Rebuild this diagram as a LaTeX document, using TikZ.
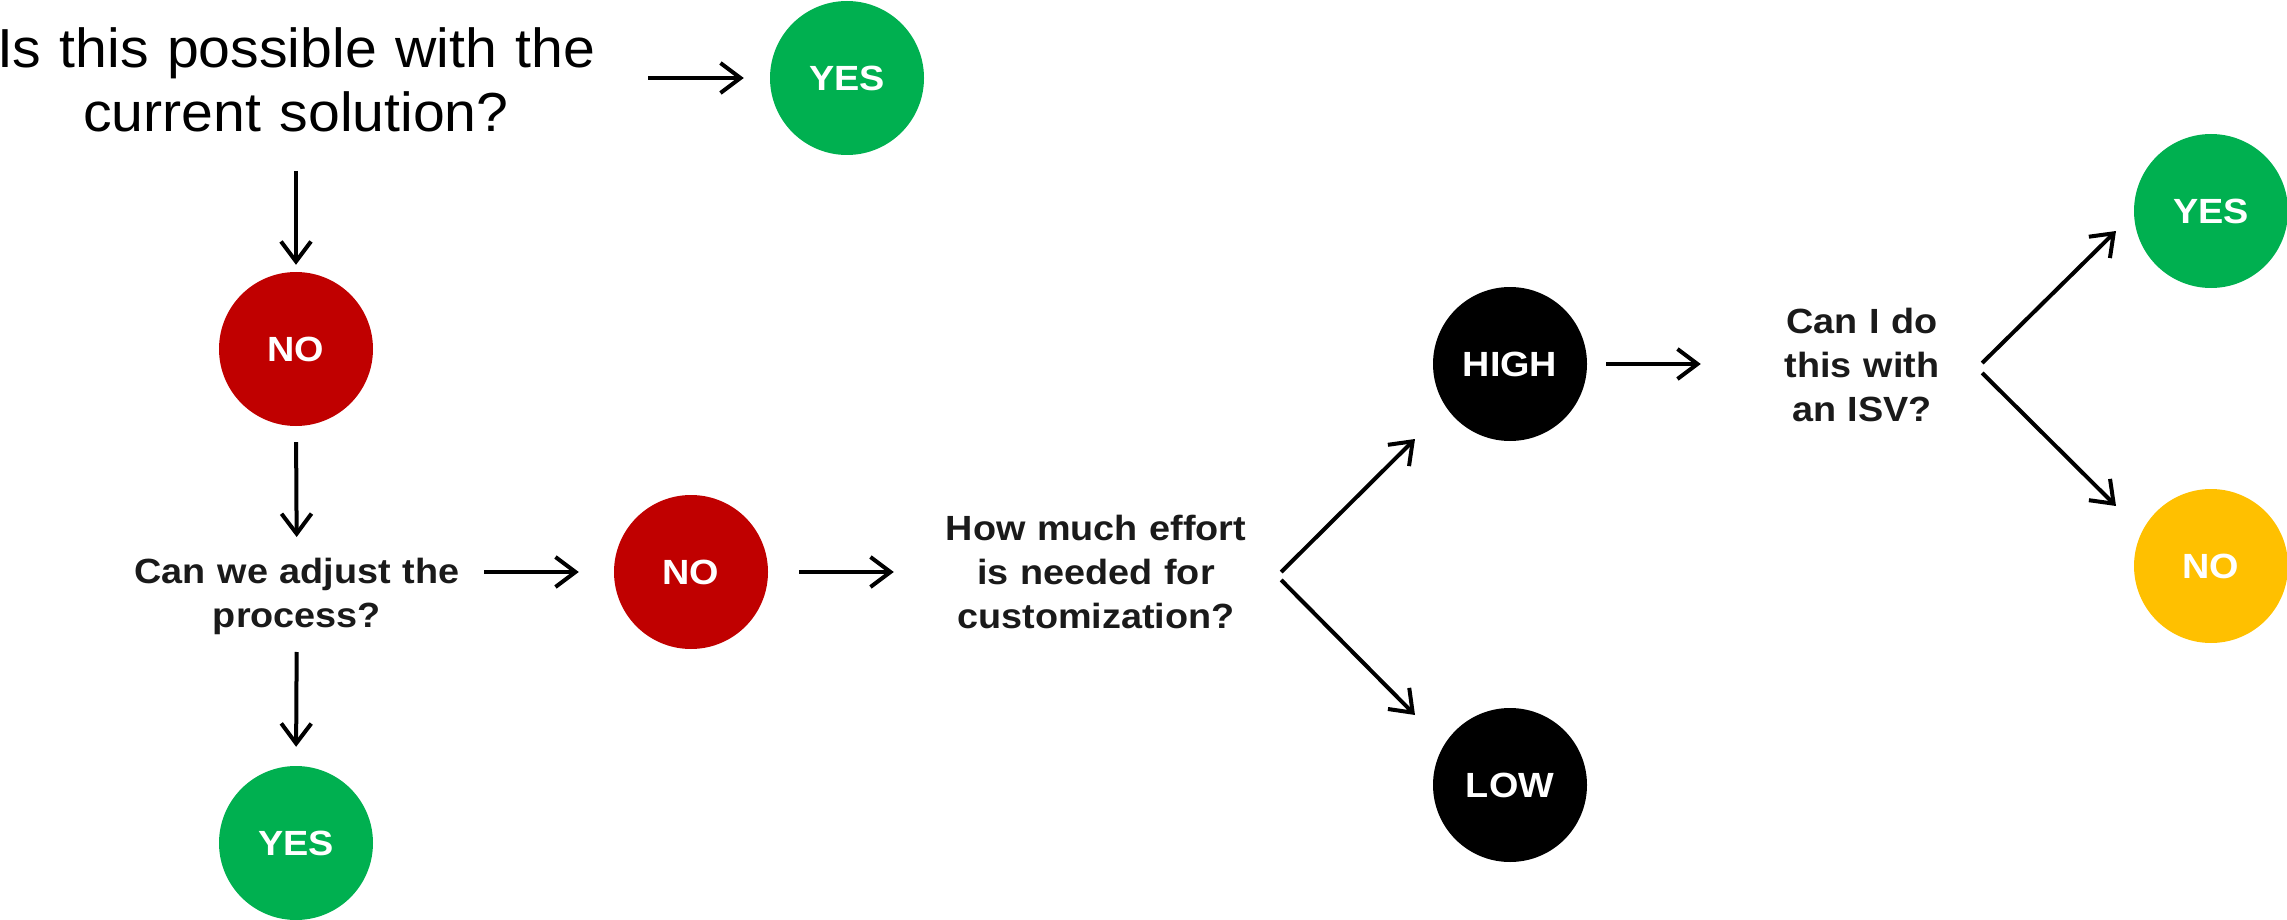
\documentclass[tikz,border=0pt]{standalone}
\usepackage{fontspec}
\setmainfont{Liberation Sans}
\newfontfamily\qfont{Liberation Sans}[FakeStretch=1.04]
\newfontfamily\bfont{Liberation Sans Bold}[FakeStretch=1.08]
\usetikzlibrary{arrows.meta,calc}
\definecolor{cgreen}{HTML}{00B050}
\definecolor{cred}{HTML}{C00000}
\definecolor{cyellow}{HTML}{FFC000}
\definecolor{ctext}{HTML}{1A1A1A}
\tikzset{
  circ/.style={circle, minimum size=154pt, inner sep=0pt, text=white,
    font=\bfont\fontsize{35}{40}\selectfont},
  yescirc/.style={circ, fill=cgreen},
  nocirc/.style={circ, fill=cred},
  warncirc/.style={circ, fill=cyellow},
  effcirc/.style={circ, fill=black},
  question/.style={align=center, text=ctext, inner sep=0pt,
    font=\bfont\fontsize{35}{44}\selectfont},
  title/.style={align=center, text=black, inner sep=0pt,
    font=\qfont\fontsize{55}{64}\selectfont},
  arr/.style={draw=black, line width=4pt, -{Straight Barb[length=20pt,width=30pt]}},
}
\begin{document}
\begin{tikzpicture}[x=1pt,y=-1pt]
\useasboundingbox (0,0) rectangle (2287,920);
\node[title, text width=600pt] (q1) at (296,80) {Is this possible with the\\current solution?};
\node[yescirc] (yes1) at (847,78) {YES};
\node[nocirc] (no1) at (296,349) {NO};
\node[question, text width=340pt] (q2) at (297,596) {Can we adjust the\\process?};
\node[yescirc] (yes2) at (296,843) {YES};
\node[nocirc] (no2) at (691,572) {NO};
\node[question, text width=330pt] (q3) at (1096,572) {How much effort\\is needed for\\customization?};
\node[effcirc] (high) at (1510,364) {HIGH};
\node[effcirc] (low) at (1510,785) {LOW};
\node[question, text width=200pt] (q4) at (1862,365) {Can I do\\this with\\an ISV?};
\node[yescirc] (yes3) at (2211,211) {YES};
\node[warncirc] (no3) at (2211,566) {NO};

\draw[arr, shorten <=52pt, shorten >=26pt] (q1.east |- yes1.west) -- (yes1.west);
\draw[arr, shorten <=91pt, shorten >=7pt] (q1.center) -- (no1.north);
\draw[arr, shorten <=16pt, shorten >=59pt] (no1.south) -- (q2.center);
\draw[arr, shorten <=56pt, shorten >=19pt] (q2.center) -- (yes2.north);
\draw[arr, shorten <=17pt, shorten >=35pt] (q2.east |- no2.west) -- (no2.west);
\draw[arr, shorten <=31pt, shorten >=37pt] (no2.east) -- (q3.west |- no2.east);
\draw[arr] ($(q3.east)+(20,0)$) -- ($(high.center)+(-95,75)$);
\draw[arr] ($(q3.east)+(20,8)$) -- ($(low.center)+(-95,-70)$);
\draw[arr, shorten <=19pt, shorten >=61pt] (high.east) -- (q4.west |- high.east);
\draw[arr] ($(q4.east)+(20,-2)$) -- ($(yes3.center)+(-95,20)$);
\draw[arr] ($(q4.east)+(20,8)$) -- ($(no3.center)+(-95,-60)$);
\end{tikzpicture}
\end{document}
